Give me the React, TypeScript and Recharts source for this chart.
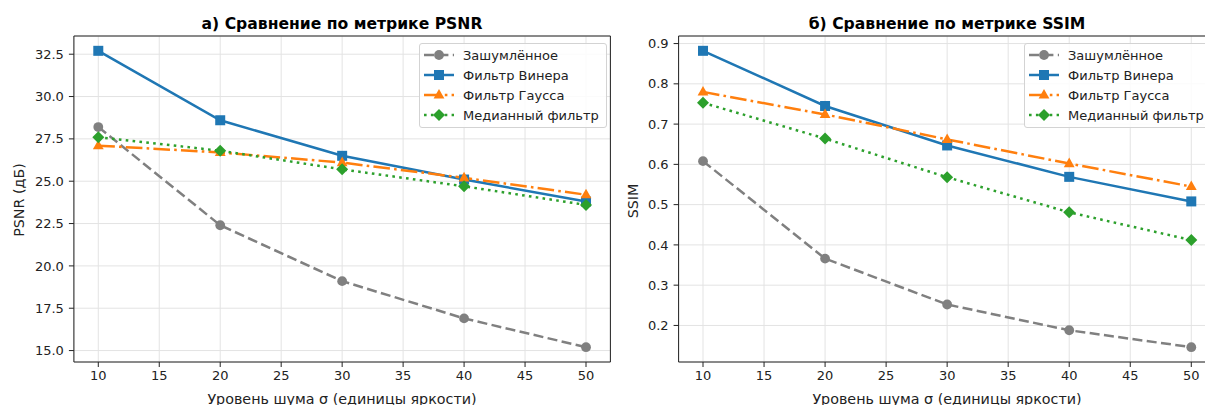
import { LineChart, Line, XAxis, YAxis, CartesianGrid, ReferenceArea, Legend } from 'recharts'

const SIGMA = [10, 20, 30, 40, 50]
const X_TICKS = [10, 15, 20, 25, 30, 35, 40, 45, 50]

const PSNR_NOISY = [28.2, 22.4, 19.1, 16.9, 15.2]
const PSNR_WIENER = [32.7, 28.6, 26.5, 25.1, 23.8]
const PSNR_GAUSS = [27.1, 26.7, 26.1, 25.2, 24.2]
const PSNR_MEDIAN = [27.6, 26.8, 25.7, 24.7, 23.6]
const PSNR_TICKS = [15, 17.5, 20, 22.5, 25, 27.5, 30, 32.5]

const SSIM_NOISY = [0.608, 0.366, 0.252, 0.188, 0.146]
const SSIM_WIENER = [0.882, 0.745, 0.647, 0.569, 0.508]
const SSIM_GAUSS = [0.78, 0.724, 0.662, 0.602, 0.545]
const SSIM_MEDIAN = [0.753, 0.664, 0.568, 0.481, 0.412]
const SSIM_TICKS = [0.2, 0.3, 0.4, 0.5, 0.6, 0.7, 0.8, 0.9]

const FONT = '"DejaVu Sans", sans-serif'
const INK = '#222'

type Shape = 'circle' | 'square' | 'triangle' | 'diamond'
interface Series { key: string; name: string; color: string; dash?: string; shape: Shape }

const SERIES: Series[] = [
  { key: 'noisy', name: 'Зашумлённое', color: '#808080', dash: '10 4.4', shape: 'circle' },
  { key: 'wiener', name: 'Фильтр Винера', color: '#1f77b4', shape: 'square' },
  { key: 'gauss', name: 'Фильтр Гаусса', color: '#ff7f0e', dash: '16.6 4.2 2.6 4.2', shape: 'triangle' },
  { key: 'median', name: 'Медианный фильтр', color: '#2ca02c', dash: '2.6 4.3', shape: 'diamond' },
]

function Marker({ cx, cy, shape, color }: { cx?: number; cy?: number; shape: Shape; color: string }) {
  if (cx == null || cy == null) return null
  if (shape === 'circle') return <circle cx={cx} cy={cy} r={4.9} fill={color} />
  if (shape === 'square') return <rect x={cx - 5} y={cy - 5} width={10} height={10} fill={color} />
  if (shape === 'triangle')
    return <polygon points={`${cx},${cy - 6} ${cx + 5.4},${cy + 3.6} ${cx - 5.4},${cy + 3.6}`} fill={color} />
  return <polygon points={`${cx},${cy - 6} ${cx + 6},${cy} ${cx},${cy + 6} ${cx - 6},${cy}`} fill={color} />
}

function LegendBox() {
  return (
    <div style={{
      border: '1px solid #d3d3d3', borderRadius: 3, background: 'rgba(255,255,255,0.85)',
      padding: '1px 7px 2px 4px', fontFamily: FONT, fontSize: 13, color: INK,
    }}>
      {SERIES.map(s => (
        <div key={s.key} style={{ display: 'flex', alignItems: 'center', height: 20 }}>
          <svg width={30} height={20} style={{ marginRight: 9 }}>
            <line x1={0} y1={10} x2={30} y2={10} stroke={s.color} strokeWidth={2.5} strokeDasharray={s.dash} />
            <Marker cx={15} cy={10} shape={s.shape} color={s.color} />
          </svg>
          <span style={{ whiteSpace: 'nowrap' }}>{s.name}</span>
        </div>
      ))}
    </div>
  )
}

function pad(vals: number[][]): [number, number] {
  const all = vals.flat()
  const lo = Math.min(...all), hi = Math.max(...all)
  const m = (hi - lo) * 0.05
  return [lo - m, hi + m]
}

interface PanelProps {
  left: number; width: number; yWidth: number; marginLeft: number; marginRight: number
  values: number[][]; ticks: number[]; legendLeft: number
}

function Panel({ left, width, yWidth, marginLeft, marginRight, values, ticks, legendLeft }: PanelProps) {
  const rows = SIGMA.map((s, i) => {
    const r: Record<string, number> = { sigma: s }
    SERIES.forEach((ser, j) => { r[ser.key] = values[j][i] })
    return r
  })
  const [y0, y1] = pad(values)
  const tickStyle = { fontSize: 13, fill: INK, fontFamily: FONT }
  return (
    <div style={{ position: 'absolute', left, top: 0 }}>
      <LineChart width={width} height={405} data={rows}
        margin={{ top: 36, right: marginRight, bottom: 13, left: marginLeft }}>
        <CartesianGrid stroke="#e3e3e3" strokeWidth={1} />
        <XAxis dataKey="sigma" type="number" domain={[8, 52]} ticks={X_TICKS} allowDataOverflow
          height={30} tick={tickStyle} tickSize={5} tickMargin={4}
          axisLine={false} tickLine={{ stroke: INK }} interval={0} />
        <YAxis type="number" domain={[y0, y1]} ticks={ticks} allowDataOverflow width={yWidth}
          tick={tickStyle} tickSize={5} tickMargin={5} tickFormatter={(v: number) => v.toFixed(1)}
          axisLine={false} tickLine={{ stroke: INK }} interval={0} />
        <ReferenceArea x1={8} x2={52} y1={y0} y2={y1} fill="none" fillOpacity={0}
          stroke={INK} strokeWidth={1} />
        {SERIES.map(s => (
          <Line key={s.key} dataKey={s.key} name={s.name} type="linear" stroke={s.color}
            strokeWidth={2.5} strokeDasharray={s.dash} isAnimationActive={false}
            dot={(p: any) => <Marker key={`${s.key}-${p.index}`} cx={p.cx} cy={p.cy} shape={s.shape} color={s.color} />}
            activeDot={false} />
        ))}
        <Legend layout="vertical" align="center" verticalAlign="middle"
          wrapperStyle={{ left: legendLeft, top: 43, width: 'auto', height: 'auto' }}
          content={() => <LegendBox />} />
      </LineChart>
    </div>
  )
}

function Text({ x, y, children, size, bold, rotate }: { x: number; y: number; children: string; size: number; bold?: boolean; rotate?: boolean }) {
  return (
    <div style={{
      position: 'absolute', left: x, top: y, whiteSpace: 'nowrap',
      transform: `translate(-50%, -50%)${rotate ? ' rotate(-90deg)' : ''}`,
      fontFamily: FONT, fontSize: size, fontWeight: bold ? 700 : 400, color: bold ? '#000' : INK,
      lineHeight: 1,
    }}>{children}</div>
  )
}

export default function App() {
  return (
    <div style={{ position: 'absolute', left: 0, top: 0, width: 1205, height: 405, overflow: 'hidden', background: '#fff' }}>
      <Panel left={0} width={640} yWidth={60} marginLeft={13.9} marginRight={29.6}
        values={[PSNR_NOISY, PSNR_WIENER, PSNR_GAUSS, PSNR_MEDIAN]} ticks={PSNR_TICKS} legendLeft={419} />
      <Panel left={620} width={620} yWidth={45} marginLeft={13.6} marginRight={24.3}
        values={[SSIM_NOISY, SSIM_WIENER, SSIM_GAUSS, SSIM_MEDIAN]} ticks={SSIM_TICKS} legendLeft={404} />
      <Text x={342} y={24.5} size={15.6} bold>а) Сравнение по метрике PSNR</Text>
      <Text x={947} y={24.5} size={15.6} bold>б) Сравнение по метрике SSIM</Text>
      <Text x={342} y={398.5} size={14.3}>Уровень шума σ (единицы яркости)</Text>
      <Text x={947} y={398.5} size={14.3}>Уровень шума σ (единицы яркости)</Text>
      <Text x={18.7} y={199.5} size={14.3} rotate>PSNR (дБ)</Text>
      <Text x={633.3} y={200.5} size={14.3} rotate>SSIM</Text>
    </div>
  )
}
